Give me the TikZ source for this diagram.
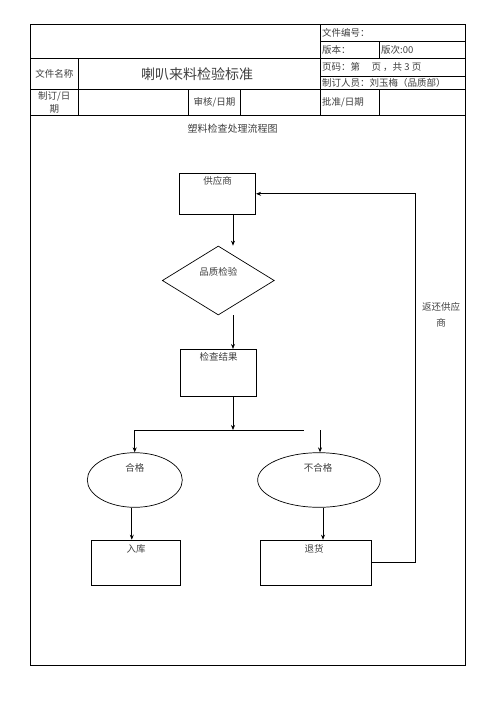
\documentclass[tikz,border=0pt]{standalone}
\usepackage{fontspec}
\setmainfont{Noto Sans CJK SC}
\usetikzlibrary{arrows.meta,shapes.geometric}
\tikzset{
  tline/.style={line width=0.9pt},
  fline/.style={line width=0.7pt},
  arr/.style={fline,-{Stealth[length=5pt,width=4pt]}},
  tbl/.style={font=\fontsize{9.5}{11}\selectfont, text=black!75, inner sep=0pt},
  ftxt/.style={font=\fontsize{9.5}{11}\selectfont, text=black!75, inner sep=0pt},
  boxnode/.style={draw, fline, rectangle, inner sep=0pt},
  ellnode/.style={draw, fline, ellipse, inner sep=0pt},
}
\begin{document}
\begin{tikzpicture}[x=1pt,y=-1pt]
\path[use as bounding box, fill=white] (0,0) rectangle (496,702);
% ---- table frame ----
\draw[tline] (30,24.3) rectangle (465.3,665);
\draw[tline] (320,41.7) -- (465.3,41.7);
\draw[tline] (30,58.5) -- (465.3,58.5);
\draw[tline] (320,76) -- (465.3,76);
\draw[tline] (30,89.3) -- (465.3,89.3);
\draw[tline] (30,115.3) -- (465.3,115.3);
\draw[tline] (320,24.3) -- (320,115.3);
\draw[tline] (379.3,41.7) -- (379.3,58.5);
\draw[tline] (379.3,89.3) -- (379.3,115.3);
\draw[tline] (78.7,58.5) -- (78.7,115.3);
\draw[tline] (188.3,89.3) -- (188.3,115.3);
\draw[tline] (240.7,89.3) -- (240.7,115.3);
% ---- table texts ----
\node[tbl, anchor=west] (t1) at (322,33) {文件编号：};
\node[tbl, anchor=west] (t2) at (322,50) {版本：};
\node[tbl, anchor=west] (t3) at (381,50) {版次:00};
\node[tbl, anchor=west] (t4) at (322,66.5) {页码：第\hspace{1.2em}页 ，共 3 页};
\node[tbl, anchor=west] (t5) at (322,83) {制订人员：刘玉梅（品质部）};
\node[tbl, anchor=west] (t6) at (322,102) {批准/日期};
\node[tbl] (t7) at (54.3,73.9) {文件名称};
\node[tbl, font=\fontsize{14}{16}\selectfont] (t8) at (197,73.9) {喇叭来料检验标准};
\node[tbl, align=center, font=\fontsize{9.5}{12.5}\selectfont] (t9) at (54.3,102.3) {制订/日\\期};
\node[tbl] (t10) at (214.5,102) {审核/日期};
% ---- flowchart ----
\node[ftxt, font=\fontsize{10}{12}\selectfont] (title) at (232.5,129) {塑料检查处理流程图};
\coordinate (ax) at (233,0);
\coordinate (rx) at (415,0);

\node[boxnode, minimum width=76.4pt, minimum height=41pt] (sup) at (217.5,193.8) {};
\node[ftxt] (supt) at (217.5,181) {供应商};

\node[draw, fline, diamond, inner sep=0pt, minimum width=112pt, minimum height=69pt] (dia) at (218.3,280.5) {};
\node[ftxt] (diat) at (218.3,272) {品质检验};

\node[boxnode, minimum width=76.4pt, minimum height=47pt] (res) at (218.5,372.8) {};
\node[ftxt] (rest) at (218.5,356.7) {检查结果};

\coordinate (hl1) at (134.7,430);
\coordinate (hl2) at (304,430);
\coordinate (hl3) at (320,430);

\node[ellnode, minimum width=95pt, minimum height=54.6pt] (ok) at (134.8,480) {};
\node[ftxt] (okt) at (134.8,468.3) {合格};
\node[ellnode, minimum width=122.7pt, minimum height=54.6pt] (ng) at (319,480) {};
\node[ftxt] (ngt) at (318,468.3) {不合格};

\node[boxnode, minimum width=89pt, minimum height=45.3pt] (in) at (136.2,562.7) {};
\node[ftxt] (int) at (136.2,549) {入库};
\node[boxnode, minimum width=111.4pt, minimum height=45.3pt] (ret) at (316,562.7) {};
\node[ftxt] (rett) at (314,549) {退货};

\node[ftxt, align=center, font=\fontsize{9.5}{16}\selectfont] (back) at (441,315) {返还供应\\商};

\coordinate (okx) at ([xshift=-3pt]ok.south);
\coordinate (ngx) at ([xshift=4pt]ng.south);

% connectors
\draw[arr] (sup.south -| ax) -- (dia.north -| ax);
\draw[arr] (dia.south -| ax) -- (res.north -| ax);
\draw[arr] (res.south -| ax) -- (hl1 -| ax);
\draw[fline] (hl1) -- (hl2);
\draw[arr] (hl1) -- (ok.north -| hl1);
\draw[arr] (hl3) -- (ng.north -| hl3);
\draw[arr] (okx) -- (in.north -| okx);
\draw[arr] (ngx) -- (ret.north -| ngx);
\draw[arr] (ret.east) -- (ret.east -| rx) -- (rx |- sup.east) -- (sup.east);
\end{tikzpicture}
\end{document}
